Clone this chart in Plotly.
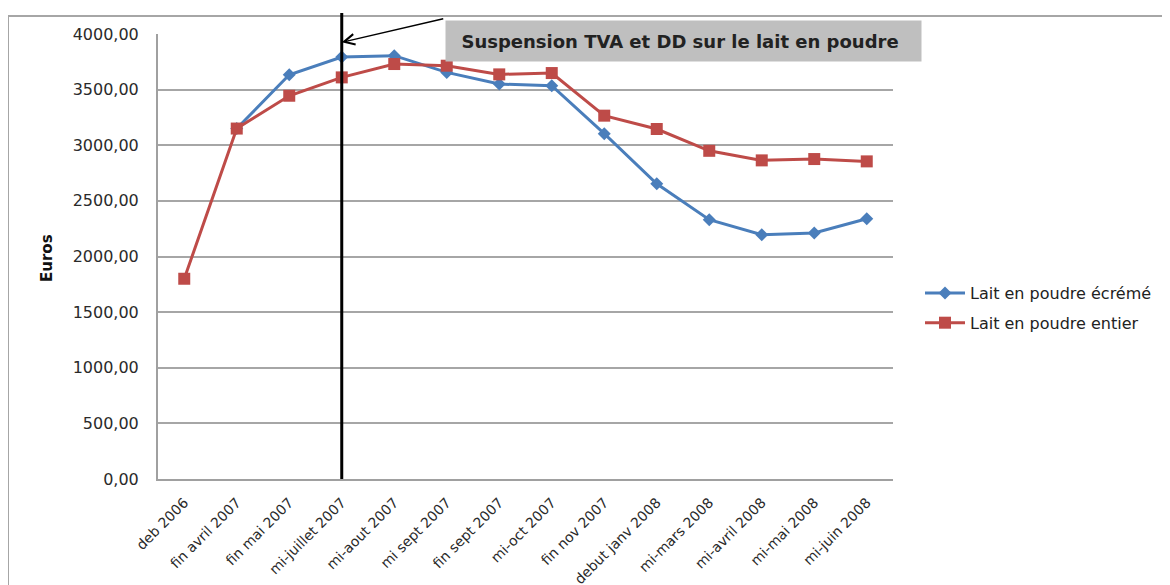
import plotly.graph_objects as go

categories = ["deb 2006", "fin avril 2007", "fin mai 2007", "mi-juillet 2007", "mi-aout 2007",
              "mi sept 2007", "fin sept 2007", "mi-oct 2007", "fin nov 2007", "debut janv 2008",
              "mi-mars 2008", "mi-avril 2008", "mi-mai 2008", "mi-juin 2008"]
ecreme = [None, 3150, 3634, 3793, 3805, 3655, 3550, 3535, 3104, 2654, 2331, 2196, 2211, 2340]
entier = [1800, 3150, 3445, 3610, 3730, 3715, 3637, 3649, 3266, 3146, 2950, 2864, 2876, 2855]
tick_vals = [0, 500, 1000, 1500, 2000, 2500, 3000, 3500, 4000]
tick_text = ["0,00", "500,00", "1000,00", "1500,00", "2000,00", "2500,00", "3000,00", "3500,00", "4000,00"]

FONT = "DejaVu Sans, sans-serif"
OFF = 8  # page body margin
W, H = 1170, 585
L, R, T, B = 158 - OFF, 893 - OFF, 34 - OFF, 479 - OFF

def px(xp):
    return (xp - OFF - L) / (R - L)

def py(yp):
    return (B - (yp - OFF)) / (B - T)

fig = go.Figure()
fig.add_trace(go.Scatter(
    x=categories, y=ecreme, mode="lines+markers", name="Lait en poudre écrémé", legendgroup="a",
    line=dict(color="#4a7ebb", width=3), marker=dict(symbol="diamond", size=10, color="#4a7ebb"),
    connectgaps=False))
fig.add_trace(go.Scatter(
    x=categories, y=entier, mode="lines+markers", name="Lait en poudre entier", legendgroup="b",
    line=dict(color="#be4b48", width=3), marker=dict(symbol="square", size=12, color="#be4b48")))

fig.update_layout(
    width=W, height=H,
    margin=dict(l=L, r=W - R, t=T, b=H - B, autoexpand=False),
    paper_bgcolor="white", plot_bgcolor="white",
    font=dict(family=FONT, color="#333333"),
    showlegend=True,
    legend=dict(x=px(920), y=py(276), xanchor="left", yanchor="top",
                font=dict(size=16, color="#222222", family=FONT), tracegroupgap=6,
                itemwidth=40, bgcolor="rgba(0,0,0,0)"),
    xaxis=dict(type="category", tickangle=-45, showgrid=False, showline=True, automargin=False,
               linecolor="#a0a0a0", linewidth=2, ticks="outside", ticklen=8,
               tickcolor="rgba(0,0,0,0)", tickfont=dict(size=14, color="#2a2a2a"),
               range=[-0.5, 13.5]),
    yaxis=dict(range=[0, 4000], tickvals=tick_vals, ticktext=tick_text, showgrid=True, automargin=False,
               gridcolor="#a6a6a6", gridwidth=1.5, showline=True, linecolor="#a0a0a0", linewidth=2,
               zeroline=False, ticks="outside", ticklen=14, tickcolor="rgba(0,0,0,0)",
               tickfont=dict(size=16, color="#2a2a2a")),
)

# y axis title
fig.add_annotation(xref="paper", yref="paper", x=px(47), y=py(258), xanchor="center", yanchor="middle",
                   text="<b>Euros</b>", showarrow=False, textangle=-90,
                   font=dict(size=15, color="#111111", family=FONT))

# outer frame (top and left lines)
fig.add_shape(type="line", xref="paper", yref="paper", x0=px(8), x1=px(1185), y0=py(16), y1=py(16),
              line=dict(color="#a6a6a6", width=2))
fig.add_shape(type="line", xref="paper", yref="paper", x0=px(8), x1=px(8), y0=py(16), y1=py(600),
              line=dict(color="#a6a6a6", width=2))

# vertical event line
fig.add_shape(type="line", xref="x", yref="paper", x0=3, x1=3, y0=0, y1=py(13),
              line=dict(color="black", width=3))

# annotation box
fig.add_annotation(xref="paper", yref="paper", x=px(445), y=py(20), xanchor="left", yanchor="top",
                   text="&nbsp;&nbsp;<b>Suspension TVA et DD sur le lait en poudre</b>", showarrow=False,
                   font=dict(size=18, color="#222222", family=FONT), align="left",
                   bgcolor="#bfbfbf", width=467, height=32, borderpad=4)

# arrow
fig.add_annotation(x=3, y=3925, xref="x", yref="y", ax=103, ay=-24, axref="pixel", ayref="pixel",
                   showarrow=True, arrowhead=5, arrowsize=1.4, arrowwidth=1.5, arrowcolor="black",
                   text="")

fig.write_html("out.html")
